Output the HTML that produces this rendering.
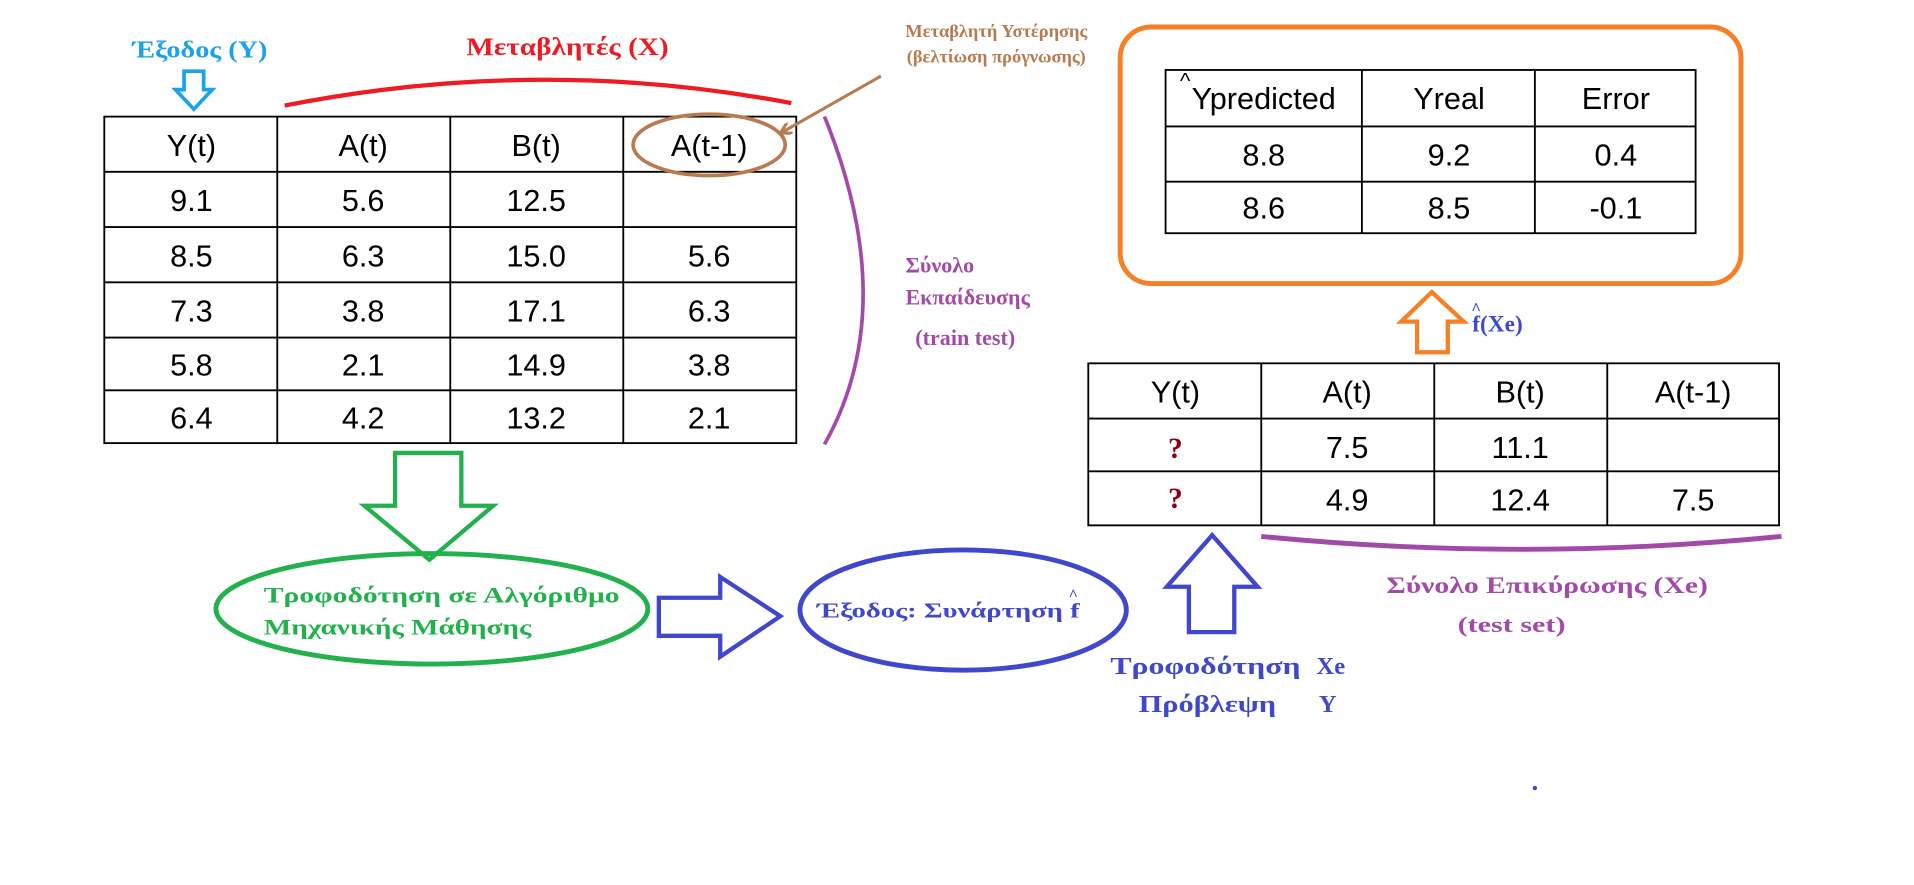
<!DOCTYPE html>
<html><head><meta charset="utf-8"><style>
html,body{margin:0;padding:0;background:#fff;width:1914px;height:885px;overflow:hidden}
svg{display:block}
.t{font-family:"Liberation Sans",sans-serif;font-size:25px;fill:#000;text-anchor:middle}
.s{font-family:"Liberation Serif",serif;font-weight:bold}
</style></head><body>
<svg width="1914" height="885" viewBox="0 0 1560 721" preserveAspectRatio="none" xmlns="http://www.w3.org/2000/svg">
<defs><marker id="bh" markerWidth="10" markerHeight="10" refX="8" refY="5" orient="auto" markerUnits="userSpaceOnUse"><path d="M0,0 L9,5 L0,10" fill="none" stroke="#b87a4f" stroke-width="2.5"/></marker></defs>
<!-- left table -->
<g stroke="#000" stroke-width="1.5" fill="none">
<rect x="85" y="95" width="564" height="266"/>
<line x1="226" y1="95" x2="226" y2="361"/><line x1="367" y1="95" x2="367" y2="361"/><line x1="508" y1="95" x2="508" y2="361"/>
<line x1="85" y1="140" x2="649" y2="140"/><line x1="85" y1="185" x2="649" y2="185"/><line x1="85" y1="230" x2="649" y2="230"/><line x1="85" y1="275" x2="649" y2="275"/><line x1="85" y1="318" x2="649" y2="318"/>
</g>
<g class="t">
<text x="156" y="127">Y(t)</text><text x="296" y="127">A(t)</text><text x="437" y="127">B(t)</text><text x="578" y="127">A(t-1)</text>
<text x="156" y="172">9.1</text><text x="296" y="172">5.6</text><text x="437" y="172">12.5</text>
<text x="156" y="217">8.5</text><text x="296" y="217">6.3</text><text x="437" y="217">15.0</text><text x="578" y="217">5.6</text>
<text x="156" y="262">7.3</text><text x="296" y="262">3.8</text><text x="437" y="262">17.1</text><text x="578" y="262">6.3</text>
<text x="156" y="306">5.8</text><text x="296" y="306">2.1</text><text x="437" y="306">14.9</text><text x="578" y="306">3.8</text>
<text x="156" y="349">6.4</text><text x="296" y="349">4.2</text><text x="437" y="349">13.2</text><text x="578" y="349">2.1</text>
</g>
<!-- top labels -->
<text class="s" x="108" y="47" font-size="20" fill="#1aa3e8" textLength="110" lengthAdjust="spacingAndGlyphs">Έξοδος (Y)</text>
<path d="M150,58 H166 V73 H173 L158,89 L143,73 H150 Z" fill="none" stroke="#1aa3e8" stroke-width="3"/>
<text class="s" x="380" y="45" font-size="21" fill="#ed1c24" textLength="165" lengthAdjust="spacingAndGlyphs">Μεταβλητές (X)</text>
<path d="M232,86 Q440,45 645,84" fill="none" stroke="#ed1c24" stroke-width="3.5"/>
<text class="s" x="812" y="30" font-size="15" fill="#b87a4f" text-anchor="middle">Μεταβλητή Υστέρησης</text>
<text class="s" x="812" y="51" font-size="15" fill="#b87a4f" text-anchor="middle">(βελτίωση πρόγνωσης)</text>
<line x1="718" y1="62" x2="637" y2="108" stroke="#b87a4f" stroke-width="2.5" marker-end="url(#bh)"/>
<ellipse cx="578" cy="118" rx="62" ry="25" fill="none" stroke="#b87a4f" stroke-width="3"/>
<path d="M672,95 Q735,250 672,362" fill="none" stroke="#a34aa8" stroke-width="3"/>
<text class="s" x="738" y="222" font-size="18" fill="#a34aa8">Σύνολο</text>
<text class="s" x="738" y="248" font-size="18" fill="#a34aa8">Εκπαίδευσης</text>
<text class="s" x="746" y="281" font-size="18" fill="#a34aa8">(train test)</text>
<!-- orange box -->
<rect x="913" y="22" width="506" height="209" rx="25" fill="none" stroke="#f58025" stroke-width="4"/>
<g stroke="#000" stroke-width="1.5" fill="none">
<rect x="950" y="57" width="432" height="133"/>
<line x1="1110" y1="57" x2="1110" y2="190"/><line x1="1251" y1="57" x2="1251" y2="190"/>
<line x1="950" y1="103" x2="1382" y2="103"/><line x1="950" y1="148" x2="1382" y2="148"/>
</g>
<g class="t">
<text x="1030" y="89">Ypredicted</text><text x="966" y="72" font-size="18">^</text>
<text x="1181" y="89">Yreal</text><text x="1317" y="89">Error</text>
<text x="1030" y="135">8.8</text><text x="1181" y="135">9.2</text><text x="1317" y="135">0.4</text>
<text x="1030" y="178">8.6</text><text x="1181" y="178">8.5</text><text x="1317" y="178">-0.1</text>
</g>
<path d="M1155,287 H1180 V262 H1193 L1167,238 L1142,262 H1155 Z" fill="none" stroke="#f58025" stroke-width="3.5"/>
<text class="s" x="1200" y="270" font-size="19" fill="#3f48cc">f(Xe)</text>
<text class="s" x="1199" y="256" font-size="14" fill="#3f48cc">^</text>
<!-- bottom table -->
<g stroke="#000" stroke-width="1.5" fill="none">
<rect x="887" y="296" width="563" height="132"/>
<line x1="1028" y1="296" x2="1028" y2="428"/><line x1="1169" y1="296" x2="1169" y2="428"/><line x1="1310" y1="296" x2="1310" y2="428"/>
<line x1="887" y1="341" x2="1450" y2="341"/><line x1="887" y1="384" x2="1450" y2="384"/>
</g>
<g class="t">
<text x="958" y="328">Y(t)</text><text x="1098" y="328">A(t)</text><text x="1239" y="328">B(t)</text><text x="1380" y="328">A(t-1)</text>
<text x="958" y="373" fill="#880015" class="s" style="font-family:'Liberation Serif',serif;font-weight:bold;font-size:24px">?</text><text x="1098" y="373">7.5</text><text x="1239" y="373">11.1</text>
<text x="958" y="414" fill="#880015" style="font-family:'Liberation Serif',serif;font-weight:bold;font-size:24px">?</text><text x="1098" y="416">4.9</text><text x="1239" y="416">12.4</text><text x="1380" y="416">7.5</text>
</g>
<path d="M1028,437 Q1240,458 1452,437" fill="none" stroke="#a34aa8" stroke-width="4"/>
<text class="s" x="1130" y="483" font-size="19" fill="#a34aa8" textLength="262" lengthAdjust="spacingAndGlyphs">Σύνολο Επικύρωσης (Xe)</text>
<text class="s" x="1188" y="515" font-size="18" fill="#a34aa8" textLength="88" lengthAdjust="spacingAndGlyphs">(test set)</text>
<path d="M969,515 H1006 V478 H1025 L988,436 L951,478 H969 Z" fill="none" stroke="#3f48cc" stroke-width="3.5"/>
<text class="s" x="905" y="549" font-size="20" fill="#3f48cc" textLength="155" lengthAdjust="spacingAndGlyphs">Τροφοδότηση</text>
<text class="s" x="1073" y="549" font-size="20" fill="#3f48cc">Xe</text>
<text class="s" x="928" y="580" font-size="20" fill="#3f48cc" textLength="112" lengthAdjust="spacingAndGlyphs">Πρόβλεψη</text>
<text class="s" x="1075" y="580" font-size="20" fill="#3f48cc">Y</text>
<!-- green -->
<path d="M322,369 H376 V412 H402 L350,456 L297,412 H322 Z" fill="none" stroke="#22b14c" stroke-width="3.5"/>
<ellipse cx="352" cy="496" rx="176" ry="45" fill="none" stroke="#22b14c" stroke-width="4"/>
<text class="s" x="215" y="491" font-size="18" fill="#22b14c" textLength="290" lengthAdjust="spacingAndGlyphs">Τροφοδότηση σε Αλγόριθμο</text>
<text class="s" x="215" y="517" font-size="18" fill="#22b14c" textLength="218" lengthAdjust="spacingAndGlyphs">Μηχανικής Μάθησης</text>
<!-- blue -->
<path d="M537,487 H587 V470 L636,502 L587,535 V518 H537 Z" fill="none" stroke="#3f48cc" stroke-width="3.5"/>
<ellipse cx="785" cy="497" rx="133" ry="49" fill="none" stroke="#3f48cc" stroke-width="4"/>
<text class="s" x="666" y="503" font-size="17" fill="#3f48cc" textLength="214" lengthAdjust="spacingAndGlyphs">Έξοδος: Συνάρτηση f</text>
<text class="s" x="871" y="489" font-size="13" fill="#3f48cc">^</text>
<circle cx="1251" cy="642" r="1.8" fill="#3f48cc"/>
</svg>
</body></html>
